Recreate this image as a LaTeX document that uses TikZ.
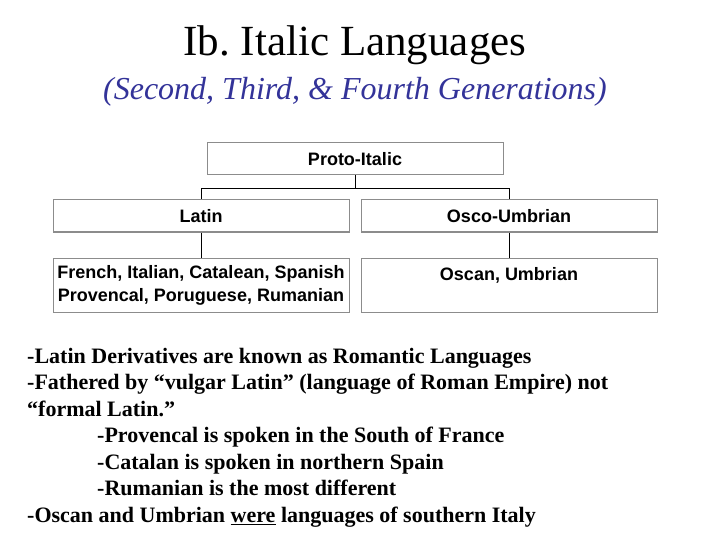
\documentclass[tikz,border=0pt]{standalone}
\usepackage{fontspec}
\setmainfont{Liberation Serif}
\newfontfamily\boxfont{Liberation Sans}
\usepackage{xcolor}
\definecolor{colorSubtitle}{RGB}{51,51,153}
\colorlet{colorBorder}{black!45}
\usepackage{tikz}
\usetikzlibrary{positioning}
\tikzset{langbox/.style={draw=colorBorder, line width=1pt, minimum width=296pt, minimum height=32pt, inner sep=2pt, font=\boxfont\bfseries\fontsize{18}{23}\selectfont, align=center},
  groupbox/.style={langbox, minimum height=54pt},
  branch/.style={black, line width=1pt}}

\begin{document}
\frenchspacing
\begin{tikzpicture}[x=1pt, y=-1pt]
\useasboundingbox (0,0) rectangle (720,540);
\node (title) at (355,45) {\fontsize{43}{48}\selectfont Ib. Italic Languages};
\node[text=colorSubtitle] (subtitle) at (355,92) {\fontsize{32}{36}\selectfont\itshape (Second, Third, \& Fourth Generations)};
\node[langbox] (proto) at (355,159) {Proto-Italic};
\node[langbox] (latin) at (201,216) {Latin};
\node[langbox] (osco) at (509,216) {Osco-Umbrian};
\node[groupbox, below=25pt of latin] (romance) {French, Italian, Catalean, Spanish\\Provencal, Poruguese, Rumanian};
\node[groupbox, below=25pt of osco] (oscan) {Oscan, Umbrian\\~};
\draw [branch] (proto.south) -- ++(0,13) -| (latin.north);
\draw [branch] (proto.south) -- ++(0,13) -| (osco.north);
\draw [branch] (latin.south) -- (romance.north);
\draw [branch] (osco.south) -- (oscan.north);
\node[anchor=north west, align=left, inner sep=0pt, font=\bfseries\fontsize{22}{26.5}\selectfont] (notes) at (27,348) {%
-Latin Derivatives are known as Romantic Languages\\
-Fathered by “vulgar Latin” (language of Roman Empire) not\\
“formal Latin.”\\
\hspace*{70pt}-Provencal is spoken in the South of France\\
\hspace*{70pt}-Catalan is spoken in northern Spain\\
\hspace*{70pt}-Rumanian is the most different\\
-Oscan and Umbrian \underline{were} languages of southern Italy};
\end{tikzpicture}
\end{document}
